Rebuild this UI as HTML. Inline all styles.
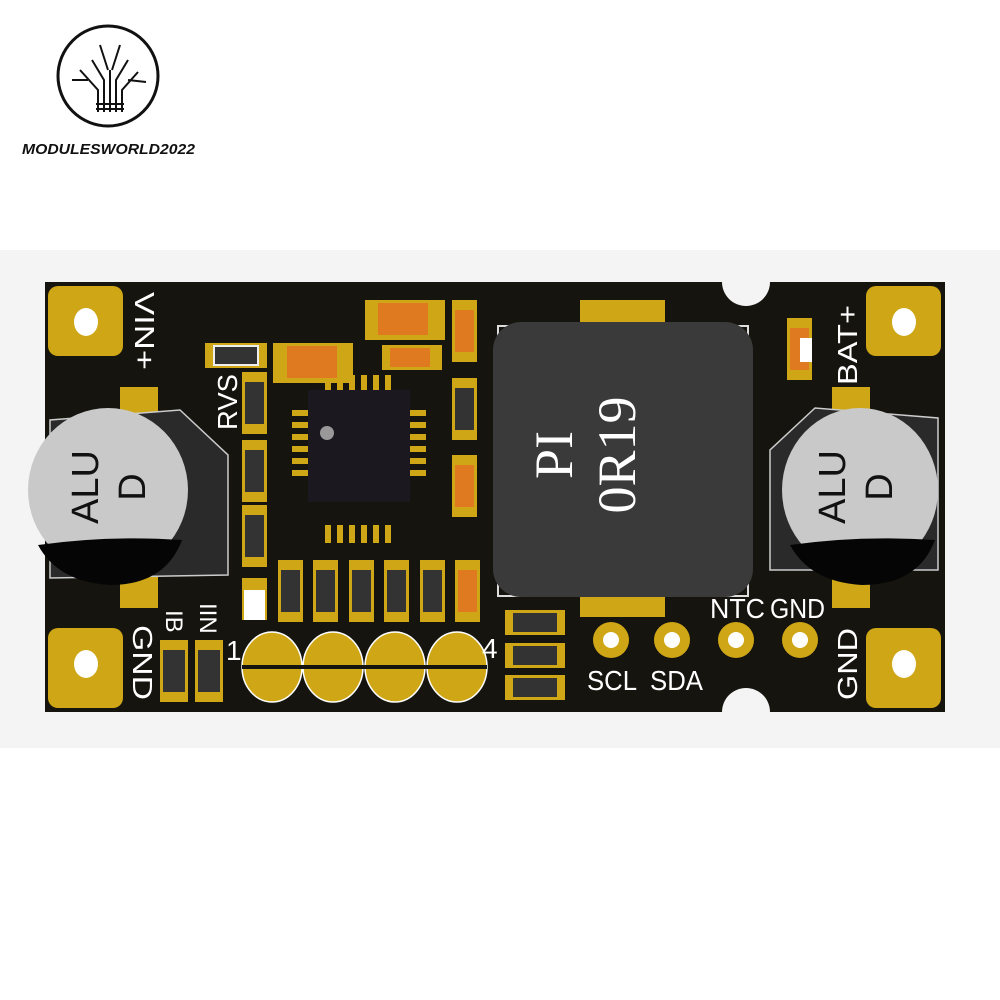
<!DOCTYPE html>
<html><head><meta charset="utf-8"><style>
html,body{margin:0;padding:0;background:#fff;}
svg{display:block;}
</style></head><body>
<svg width="1000" height="1000" viewBox="0 0 1000 1000" xmlns="http://www.w3.org/2000/svg" font-family="Liberation Sans, sans-serif">
<rect width="1000" height="1000" fill="#fff"/>
<circle cx="108" cy="76" r="50" fill="none" stroke="#111" stroke-width="3"/>
<g stroke="#111" stroke-width="2" fill="none">
<path d="M98 112 V90 L80 70 M104 112 V80 L92 60 M110 112 V70 M116 112 V80 L128 60 M122 112 V90 L138 72 M108 70 L100 45 M112 70 L120 45 M88 80 L72 80 M128 80 L146 82"/>
<path d="M96 104 H124 M96 109 H124"/>
</g>
<text x="22" y="154" font-size="15" font-weight="bold" font-style="italic" fill="#111" textLength="173" lengthAdjust="spacingAndGlyphs">MODULESWORLD2022</text>
<rect x="0" y="250" width="1000" height="498" fill="#f4f4f4"/>
<rect x="45" y="282" width="900" height="430" fill="#15140e"/>
<circle cx="746" cy="282" r="24" fill="#f4f4f4"/>
<circle cx="746" cy="712" r="24" fill="#f4f4f4"/>
<g fill="#cfa615">
<rect x="48" y="286" width="75" height="70" rx="10"/>
<rect x="866" y="286" width="75" height="70" rx="10"/>
<rect x="48" y="628" width="75" height="80" rx="10"/>
<rect x="866" y="628" width="75" height="80" rx="10"/>
</g>
<g fill="#fff">
<ellipse cx="86" cy="322" rx="12" ry="14"/><ellipse cx="904" cy="322" rx="12" ry="14"/>
<ellipse cx="86" cy="664" rx="12" ry="14"/><ellipse cx="904" cy="664" rx="12" ry="14"/>
</g>
<g fill="#cfa615">
<rect x="120" y="387" width="38" height="30"/><rect x="120" y="570" width="38" height="38"/>
<rect x="832" y="387" width="38" height="30"/><rect x="832" y="570" width="38" height="38"/>
</g>
<path d="M50 562 V420 L180 410 L228 455 V575 L50 578Z" fill="#2a2a2a" stroke="#ccc" stroke-width="1.5"/>
<path d="M770 570 V450 L815 408 L938 418 V570Z" fill="#2a2a2a" stroke="#ccc" stroke-width="1.5"/>
<ellipse cx="108" cy="490" rx="80" ry="82" fill="#c9c9c9"/>
<path d="M38 545 Q108 535 182 540 Q165 585 110 585 Q58 582 38 545Z" fill="#050505"/>
<ellipse cx="860" cy="490" rx="78" ry="82" fill="#c9c9c9"/>
<path d="M790 545 Q860 535 935 540 Q918 585 862 585 Q810 582 790 545Z" fill="#050505"/>
<text transform="translate(98,487) rotate(-90)" font-size="38" fill="#111" text-anchor="middle">ALU</text>
<text transform="translate(145,487) rotate(-90)" font-size="38" fill="#111" text-anchor="middle">D</text>
<text transform="translate(845,487) rotate(-90)" font-size="38" fill="#111" text-anchor="middle">ALU</text>
<text transform="translate(892,487) rotate(-90)" font-size="38" fill="#111" text-anchor="middle">D</text>
<rect x="580" y="300" width="85" height="25" fill="#cfa615"/>
<rect x="580" y="592" width="85" height="25" fill="#cfa615"/>
<rect x="498" y="326" width="250" height="270" fill="none" stroke="#ddd" stroke-width="2"/>
<rect x="493" y="322" width="260" height="275" rx="28" fill="#3a3a3a"/>
<text transform="translate(572,455) rotate(-90)" font-family="Liberation Serif, serif" font-size="54" fill="#fff" text-anchor="middle">PI</text>
<text transform="translate(635,455) rotate(-90)" font-family="Liberation Serif, serif" font-size="54" fill="#fff" text-anchor="middle">0R19</text>
<g fill="#cfa615">
<rect x="325" y="525" width="6" height="18"/><rect x="337" y="525" width="6" height="18"/><rect x="349" y="525" width="6" height="18"/><rect x="361" y="525" width="6" height="18"/><rect x="373" y="525" width="6" height="18"/><rect x="385" y="525" width="6" height="18"/>
<rect x="325" y="375" width="6" height="18"/><rect x="337" y="375" width="6" height="18"/><rect x="349" y="375" width="6" height="18"/><rect x="361" y="375" width="6" height="18"/><rect x="373" y="375" width="6" height="18"/><rect x="385" y="375" width="6" height="18"/>
<rect x="292" y="410" width="18" height="6"/><rect x="292" y="422" width="18" height="6"/><rect x="292" y="434" width="18" height="6"/><rect x="292" y="446" width="18" height="6"/><rect x="292" y="458" width="18" height="6"/><rect x="292" y="470" width="18" height="6"/>
<rect x="408" y="410" width="18" height="6"/><rect x="408" y="422" width="18" height="6"/><rect x="408" y="434" width="18" height="6"/><rect x="408" y="446" width="18" height="6"/><rect x="408" y="458" width="18" height="6"/><rect x="408" y="470" width="18" height="6"/>
</g>
<rect x="308" y="390" width="102" height="112" fill="#1c1820"/>
<circle cx="327" cy="433" r="7" fill="#999"/>
<g>
<rect x="205" y="343" width="62" height="25" fill="#cfa615"/><rect x="214" y="346" width="44" height="19" fill="#333" stroke="#eee" stroke-width="2"/>
<rect x="273" y="343" width="80" height="40" fill="#cfa615"/><rect x="287" y="346" width="50" height="32" fill="#e07a20"/>
<rect x="365" y="300" width="80" height="40" fill="#cfa615"/><rect x="378" y="303" width="50" height="32" fill="#e07a20"/>
<rect x="382" y="345" width="60" height="25" fill="#cfa615"/><rect x="390" y="348" width="40" height="19" fill="#e07a20"/>
<rect x="452" y="300" width="25" height="62" fill="#cfa615"/><rect x="455" y="310" width="19" height="42" fill="#e07a20"/>
<rect x="452" y="378" width="25" height="62" fill="#cfa615"/><rect x="455" y="388" width="19" height="42" fill="#333"/>
<rect x="452" y="455" width="25" height="62" fill="#cfa615"/><rect x="455" y="465" width="19" height="42" fill="#e07a20"/>
<rect x="242" y="372" width="25" height="62" fill="#cfa615"/><rect x="245" y="382" width="19" height="42" fill="#333"/>
<rect x="242" y="440" width="25" height="62" fill="#cfa615"/><rect x="245" y="450" width="19" height="42" fill="#333"/>
<rect x="242" y="505" width="25" height="62" fill="#cfa615"/><rect x="245" y="515" width="19" height="42" fill="#333"/>
<rect x="242" y="578" width="25" height="42" fill="#cfa615"/><rect x="244" y="590" width="21" height="30" fill="#fff"/>
<rect x="278" y="560" width="25" height="62" fill="#cfa615"/><rect x="281" y="570" width="19" height="42" fill="#333"/>
<rect x="313" y="560" width="25" height="62" fill="#cfa615"/><rect x="316" y="570" width="19" height="42" fill="#333"/>
<rect x="349" y="560" width="25" height="62" fill="#cfa615"/><rect x="352" y="570" width="19" height="42" fill="#333"/>
<rect x="384" y="560" width="25" height="62" fill="#cfa615"/><rect x="387" y="570" width="19" height="42" fill="#333"/>
<rect x="420" y="560" width="25" height="62" fill="#cfa615"/><rect x="423" y="570" width="19" height="42" fill="#333"/>
<rect x="455" y="560" width="25" height="62" fill="#cfa615"/><rect x="458" y="570" width="19" height="42" fill="#e07a20"/>
<rect x="505" y="610" width="60" height="25" fill="#cfa615"/><rect x="513" y="613" width="44" height="19" fill="#333"/>
<rect x="505" y="643" width="60" height="25" fill="#cfa615"/><rect x="513" y="646" width="44" height="19" fill="#333"/>
<rect x="505" y="675" width="60" height="25" fill="#cfa615"/><rect x="513" y="678" width="44" height="19" fill="#333"/>
<rect x="160" y="640" width="28" height="62" fill="#cfa615"/><rect x="163" y="650" width="22" height="42" fill="#333"/>
<rect x="195" y="640" width="28" height="62" fill="#cfa615"/><rect x="198" y="650" width="22" height="42" fill="#333"/>
<rect x="787" y="318" width="25" height="62" fill="#cfa615"/><rect x="790" y="328" width="19" height="42" fill="#e07a20"/>
<rect x="800" y="338" width="12" height="24" fill="#fff"/>
</g>
<g fill="#cfa615" stroke="#fff" stroke-width="1.5">
<ellipse cx="272" cy="667" rx="30" ry="35"/><ellipse cx="333" cy="667" rx="30" ry="35"/><ellipse cx="395" cy="667" rx="30" ry="35"/><ellipse cx="457" cy="667" rx="30" ry="35"/>
</g>
<rect x="242" y="665" width="245" height="4" fill="#15140e"/>
<g fill="#cfa615"><circle cx="611" cy="640" r="18"/><circle cx="672" cy="640" r="18"/><circle cx="736" cy="640" r="18"/><circle cx="800" cy="640" r="18"/></g>
<g fill="#fff"><circle cx="611" cy="640" r="8"/><circle cx="672" cy="640" r="8"/><circle cx="736" cy="640" r="8"/><circle cx="800" cy="640" r="8"/></g>
<g fill="#fff" font-size="28">
<text transform="translate(135,292) rotate(90)" textLength="78" lengthAdjust="spacingAndGlyphs">VIN+</text>
<text transform="translate(237,430) rotate(-90)" textLength="56" lengthAdjust="spacingAndGlyphs">RVS</text>
<text transform="translate(857,385) rotate(-90)" textLength="80" lengthAdjust="spacingAndGlyphs">BAT+</text>
<text transform="translate(857,700) rotate(-90)" textLength="72" lengthAdjust="spacingAndGlyphs">GND</text>
<text transform="translate(133,625) rotate(90)" textLength="75" lengthAdjust="spacingAndGlyphs">GND</text>
<text transform="translate(166,610) rotate(90)" font-size="24">IB</text>
<text transform="translate(200,603) rotate(90)" font-size="24">IIN</text>
<text x="226" y="660">1</text>
<text x="482" y="658">4</text>
<text x="587" y="690" textLength="50" lengthAdjust="spacingAndGlyphs">SCL</text>
<text x="650" y="690" textLength="53" lengthAdjust="spacingAndGlyphs">SDA</text>
<text x="710" y="618" textLength="55" lengthAdjust="spacingAndGlyphs">NTC</text>
<text x="770" y="618" textLength="55" lengthAdjust="spacingAndGlyphs">GND</text>
</g>
</svg>
</body></html>
